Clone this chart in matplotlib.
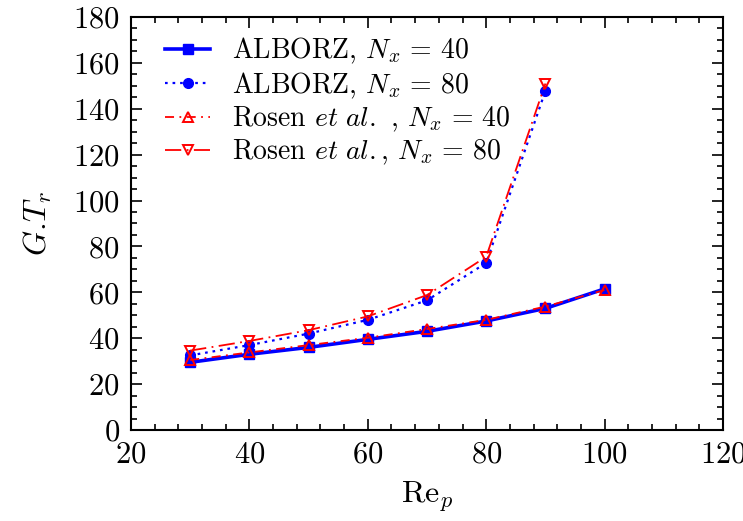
import matplotlib
matplotlib.use("Agg")
import matplotlib.pyplot as plt
from matplotlib.ticker import MultipleLocator

plt.rcParams['font.family'] = 'serif'
plt.rcParams['font.serif'] = ['cmr10']
plt.rcParams['mathtext.fontset'] = 'cm'
plt.rcParams['axes.formatter.use_mathtext'] = True

re_40 = [30, 40, 50, 60, 70, 80, 90, 100]
re_80 = [30, 40, 50, 60, 70, 80, 90]
alborz_40 = [29.5, 33, 36, 39.5, 43, 47.5, 53, 61.5]
alborz_80 = [32.5, 37, 42, 48, 56.5, 72.8, 147.8]
rosen_40 = [30.5, 33.8, 37, 40.2, 44, 48, 53.8, 61]
rosen_80 = [34.6, 38.8, 43.5, 49.5, 58.8, 75.5, 151]

fig = plt.figure(figsize=(7.43, 5.21), dpi=100)
ax = fig.add_axes([0.1763, 0.1747, 0.9731 - 0.1763, 0.9674 - 0.1747])

ax.plot(re_40, alborz_40, color='#0000ff', lw=2.6, marker='s', ms=7,
        label=r'ALBORZ, $N_x\,=\,40$', zorder=3)
ax.plot(re_80, alborz_80, color='#0000ff', lw=1.6, ls=(0, (1.2, 2.2)), marker='o', ms=7,
        label=r'ALBORZ, $N_x\,=\,80$', zorder=3)
ax.plot(re_40, rosen_40, color='#ff0000', lw=1.3, ls=(0, (5, 3, 1, 3)), marker='^', ms=7,
        mfc='none', mew=1.4, label=r'Rosen $et\ al.$ , $N_x\,=\,40$', zorder=4)
ax.plot(re_80, rosen_80, color='#ff0000', lw=1.3, ls=(0, (9, 3, 1, 3)), marker='v', ms=7,
        mfc='none', mew=1.4, label=r'Rosen $et\ al.$, $N_x\,=\,80$', zorder=4)

ax.set_xlim(20, 120)
ax.set_ylim(0, 180)
ax.xaxis.set_major_locator(MultipleLocator(20))
ax.xaxis.set_minor_locator(MultipleLocator(4))
ax.yaxis.set_major_locator(MultipleLocator(20))
ax.yaxis.set_minor_locator(MultipleLocator(5))
ax.tick_params(which='both', direction='in', top=True, right=True, labelsize=22, width=1.2)
ax.tick_params(which='major', length=8, pad=8)
ax.tick_params(which='minor', length=4)
for s in ax.spines.values():
    s.set_linewidth(1.5)

ax.set_xlabel(r'$\mathrm{Re}_p$', fontsize=23, labelpad=8)
ax.set_ylabel(r'$G.\!T_r$', fontsize=23, labelpad=14)

ax.legend(loc='upper left', bbox_to_anchor=(0.03, 0.995), frameon=False, fontsize=20,
          handlelength=1.6, handletextpad=0.8, labelspacing=0.15, borderaxespad=0.2)

fig.savefig('out.png', dpi=100)
